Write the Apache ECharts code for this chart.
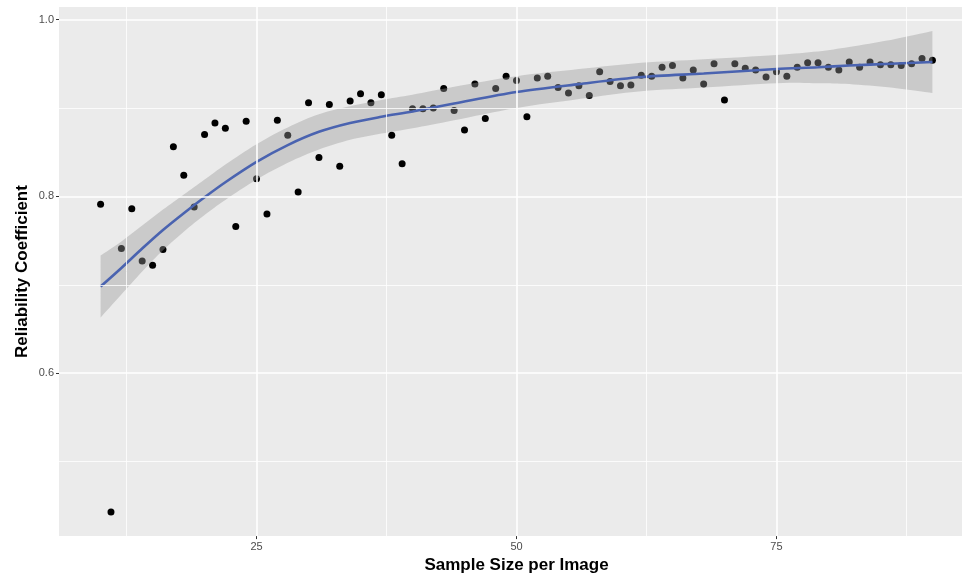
<!DOCTYPE html>
<html>
<head>
<meta charset="utf-8">
<script src="https://cdn.jsdelivr.net/npm/echarts@6/dist/echarts.min.js"></script>
<style>
html,body{margin:0;padding:0;overflow:hidden;background:#fff;}
#c{width:975px;height:579px;}
</style>
</head>
<body>
<div id="c"></div>
<script>
// Observed points: sample size per image (10..90) and reliability coefficient
const sampleSize = [10,11,12,13,14,15,16,17,18,19,20,21,22,23,24,25,26,27,28,29,30,31,32,33,34,35,36,37,38,39,40,41,42,43,44,45,46,47,48,49,50,51,52,53,54,55,56,57,58,59,60,61,62,63,64,65,66,67,68,69,70,71,72,73,74,75,76,77,78,79,80,81,82,83,84,85,86,87,88,89,90];
const reliability = [0.791,0.443,0.741,0.786,0.727,0.722,0.740,0.856,0.824,0.788,0.870,0.883,0.877,0.766,0.885,0.820,0.780,0.886,
  0.869,0.805,0.906,0.844,0.904,0.834,0.908,0.916,0.906,0.915,0.869,0.837,0.899,0.899,0.900,0.922,0.897,
  0.875,0.927,0.888,0.922,0.936,0.931,0.890,0.934,0.936,0.923,0.917,0.925,0.914,0.941,0.930,0.925,0.926,0.937,0.936,0.946,0.948,0.934,0.943,
  0.927,0.950,0.909,0.950,0.945,0.943,0.935,0.941,0.936,0.946,0.951,0.951,0.946,0.943,0.952,0.946,0.952,0.949,0.949,0.948,0.950,0.956,0.954];

// Loess smooth fit and its standard-error half width
const smoothX   = [10,12,14,16,18,20,22,25,28,31,34,37,40,44,50,56,62,68,75,79,82,86,90];
const smoothFit = [0.698,0.719,0.741,0.762,0.781,0.799,0.816,0.839,0.858,0.873,0.883,0.890,0.896,0.905,0.918,0.927,0.935,0.939,0.944,0.946,0.948,0.950,0.952];
const smoothSe  = [0.035,0.030,0.026,0.023,0.021,0.020,0.020,0.020,0.020,0.020,0.019,0.019,0.019,0.019,0.018,0.017,0.016,0.016,0.016,0.018,0.021,0.027,0.035];

// Axis ticks
const xMajor = [25,50,75];
const xMinor = [12.5,37.5,62.5,87.5];
const yMajor = [0.6,0.8,1.0];
const yMinor = [0.5,0.7,0.9];

const points = sampleSize.map((x,i)=>[x,reliability[i]]);
const bandData = smoothX.map((x,i)=>[x, smoothFit[i]-smoothSe[i], smoothFit[i]+smoothSe[i]]);
const fitLine = smoothX.map((x,i)=>[x, smoothFit[i]]);

const gridLines = [];
xMajor.forEach(v=>gridLines.push({xAxis:v, lineStyle:{color:'#ffffff',width:1.6,type:'solid'}}));
xMinor.forEach(v=>gridLines.push({xAxis:v, lineStyle:{color:'#ffffff',width:0.8,type:'solid'}}));
yMajor.forEach(v=>gridLines.push({yAxis:v, lineStyle:{color:'#ffffff',width:1.6,type:'solid'}}));
yMinor.forEach(v=>gridLines.push({yAxis:v, lineStyle:{color:'#ffffff',width:0.8,type:'solid'}}));

// Catmull-Rom smoothing of pixel polylines (rendering only)
function spline(pts, seg){
  const out=[];
  for(let i=0;i<pts.length-1;i++){
    const p0=pts[Math.max(0,i-1)], p1=pts[i], p2=pts[i+1], p3=pts[Math.min(pts.length-1,i+2)];
    for(let s=0;s<seg;s++){
      const t=s/seg, t2=t*t, t3=t2*t;
      const f=(a,b,c,d)=>0.5*((2*b)+(-a+c)*t+(2*a-5*b+4*c-d)*t2+(-a+3*b-3*c+d)*t3);
      out.push([f(p0[0],p1[0],p2[0],p3[0]), f(p0[1],p1[1],p2[1],p3[1])]);
    }
  }
  out.push(pts[pts.length-1]);
  return out;
}

const chart = echarts.init(document.getElementById('c'), null, {renderer:'canvas'});
const lab = {fontFamily:'Liberation Sans, Arial, sans-serif', fontSize:11, color:'#4D4D4D'};
chart.setOption({
  animation:false,
  backgroundColor:'#ffffff',
  grid:{left:59,right:1,top:7,bottom:40,show:true,backgroundColor:'#EBEBEB',borderWidth:0},
  xAxis:{
    type:'value', min:6, max:94,
    name:'Sample Size per Image', nameLocation:'middle', nameGap:20,
    nameTextStyle:{fontFamily:'Liberation Sans, Arial, sans-serif',fontSize:17,fontWeight:'bold',color:'#000'},
    axisLine:{show:false},
    axisTick:{show:true,length:3,lineStyle:{color:'#333',width:1},customValues:xMajor},
    axisLabel:Object.assign({margin:5,customValues:xMajor,formatter:v=>String(v)},lab),
    splitLine:{show:false}
  },
  yAxis:{
    type:'value', min:0.4157, max:1.0142,
    name:'Reliability Coefficient', nameLocation:'middle', nameGap:28, nameRotate:90, nameMoveOverlap:false,
    nameTextStyle:{fontFamily:'Liberation Sans, Arial, sans-serif',fontSize:17,fontWeight:'bold',color:'#000'},
    axisLine:{show:false},
    axisTick:{show:true,length:3,lineStyle:{color:'#333',width:1},customValues:yMajor},
    axisLabel:Object.assign({margin:5,customValues:yMajor,formatter:v=>v.toFixed(1)},lab),
    splitLine:{show:false}
  },
  series:[
    {type:'line', data:[], z:1, silent:true,
     markLine:{silent:true,symbol:['none','none'],label:{show:false},animation:false,data:gridLines}},
    {type:'scatter', data:points, z:2, symbolSize:7, itemStyle:{color:'#000000',opacity:1}, silent:true},
    {type:'custom', z:3, silent:true, data:bandData, encode:{x:0,y:[1,2]},
     renderItem:function(params, api){
       if(params.dataIndex!==0) return;
       const up=bandData.map(d=>api.coord([d[0],d[2]]));
       const lo=bandData.map(d=>api.coord([d[0],d[1]]));
       const upS=spline(up,8), loS=spline(lo,8).reverse();
       return {type:'polygon', shape:{points:upS.concat(loS)},
               style:{fill:'rgba(153,153,153,0.4)', stroke:'none'}};
     }},
    {type:'line', data:fitLine, z:4, smooth:0.3, symbol:'none', lineStyle:{color:'#4A63B0',width:2.6}, silent:true}
  ]
});
</script>
</body>
</html>
